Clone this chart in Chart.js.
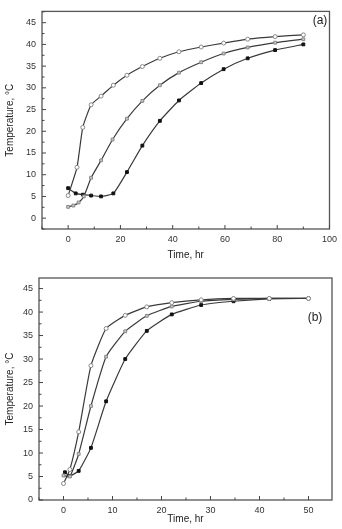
<!DOCTYPE html>
<html>
<head>
<meta charset="utf-8">
<script src="https://cdn.jsdelivr.net/npm/chart.js@4.4.1/dist/chart.umd.min.js"></script>
<style>
  body { margin: 0; background: #fff; }
  .box { position: absolute; left: 0; width: 342px; }
</style>
</head>
<body>
<div class="box" style="top:0;height:265px"><canvas id="chartA" width="342" height="265"></canvas></div>
<div class="box" style="top:265px;height:264px"><canvas id="chartB" width="342" height="264"></canvas></div>
<script>
// panel (a)
const aTime1 = [0, 3.4, 5.6, 8.8, 12.6, 17.3, 22.5, 28.4, 35.1, 42.4, 50.9, 59.5, 68.7, 79.2, 90]
const aTemp1 = [5.2, 11.7, 20.9, 26.1, 28.1, 30.6, 32.9, 34.9, 36.8, 38.3, 39.4, 40.3, 41.2, 41.8, 42.2]
const aTime2 = [0, 2, 4, 6, 8.8, 12.6, 17, 22.5, 28.4, 35.1, 42.4, 50.9, 59.5, 68.7, 79.2, 90]
const aTemp2 = [2.6, 2.9, 3.6, 5.0, 9.3, 13.3, 18.1, 22.9, 27.0, 30.6, 33.5, 35.9, 37.9, 39.3, 40.4, 41.2]
const aTime3 = [0, 2.9, 5.7, 8.8, 12.6, 17.3, 22.5, 28.4, 35.1, 42.4, 50.9, 59.5, 68.7, 79.2, 90]
const aTemp3 = [6.9, 5.7, 5.4, 5.2, 5.0, 5.7, 10.6, 16.7, 22.4, 27.1, 31.1, 34.3, 36.8, 38.7, 40.0]
const aXTicks = [0, 20, 40, 60, 80, 100]

// panel (b)
const bTime1 = [0, 1.3, 3.1, 5.6, 8.7, 12.6, 17, 22.1, 28.1, 34.7, 42, 50]
const bTemp1 = [3.5, 6.5, 14.5, 28.6, 36.5, 39.3, 41.1, 42.0, 42.6, 42.9, 42.9, 42.9]
const bTime2 = [0, 1.3, 3.1, 5.6, 8.7, 12.6, 17, 22.1, 28.1, 34.7, 42, 50]
const bTemp2 = [5.2, 5.0, 9.8, 20.0, 30.5, 35.9, 39.2, 41.2, 42.3, 42.7, 42.9, 42.9]
const bTime3 = [0.3, 1.2, 3.1, 5.6, 8.7, 12.6, 17, 22.1, 28.1, 34.7, 42, 50]
const bTemp3 = [5.9, 5.1, 6.2, 11.1, 21.0, 30.0, 36.0, 39.5, 41.5, 42.3, 42.8, 42.9]
const bXTicks = [0, 10, 20, 30, 40, 50]

const yTicks = [0, 5, 10, 15, 20, 25, 30, 35, 40, 45]

function pts(xs, ys) {
  return xs.map(function(x, i) { return {x: x, y: ys[i]} })
}

function series(xs, ys, shape, fill, stroke) {
  return {
    data: pts(xs, ys),
    borderColor: '#3a3a3a',
    borderWidth: 1.2,
    pointStyle: shape,
    pointRadius: 2,
    pointBackgroundColor: fill,
    pointBorderColor: stroke,
    pointBorderWidth: 1,
    tension: 0.15,
    fill: false
  }
}

// frame + inward ticks + panel label
const framePlugin = {
  id: 'frame',
  afterDraw(chart, args, opts) {
    const ctx = chart.ctx
    const a = chart.chartArea
    const x = chart.scales.x, y = chart.scales.y
    ctx.save()
    ctx.strokeStyle = '#555'
    ctx.lineWidth = 1.3
    ctx.strokeRect(a.left, a.top, a.right - a.left, a.bottom - a.top)
    ctx.lineWidth = 1
    ctx.strokeStyle = '#444'
    for (let v = Math.ceil(x.min / opts.xMinor) * opts.xMinor; v <= x.max; v += opts.xMinor) {
      const px = x.getPixelForValue(v)
      const len = Math.abs(v % opts.xMajor) < 1e-6 ? 4 : 2.5
      ctx.beginPath(); ctx.moveTo(px, a.bottom); ctx.lineTo(px, a.bottom - len); ctx.stroke()
    }
    for (let v = Math.ceil(y.min / 2.5) * 2.5; v <= y.max; v += 2.5) {
      const py = y.getPixelForValue(v)
      const len = Math.abs(v % 5) < 1e-6 ? 4 : 2.5
      ctx.beginPath(); ctx.moveTo(a.left, py); ctx.lineTo(a.left + len, py); ctx.stroke()
    }
    ctx.fillStyle = '#222'
    ctx.font = '12px "Liberation Sans", Arial, sans-serif'
    ctx.textAlign = 'center'
    ctx.textBaseline = 'middle'
    ctx.fillText(opts.label, opts.lx, opts.ly)
    ctx.restore()
  }
}

function makeChart(id, datasets, xMin, xMax, yMin, yMax, xTicks, xMinor, xMajor, layout, yWidth, xHeight, label, lx, ly) {
  return new Chart(id, {
    type: 'line',
    data: { datasets: datasets },
    plugins: [framePlugin],
    options: {
      responsive: false,
      animation: false,
      layout: { padding: layout },
      plugins: {
        legend: { display: false },
        tooltip: { enabled: false },
        frame: { xMinor: xMinor, xMajor: xMajor, label: label, lx: lx, ly: ly }
      },
      scales: {
        x: {
          type: 'linear',
          min: xMin,
          max: xMax,
          afterBuildTicks: function(s) { s.ticks = xTicks.map(function(v) { return {value: v} }) },
          afterFit: function(s) { s.height = xHeight },
          grid: { display: false, drawTicks: false },
          border: { display: false },
          ticks: { color: '#333', font: { size: 9, family: '"Liberation Sans", Arial' }, padding: 5, maxRotation: 0 },
          title: { display: true, text: 'Time, hr', color: '#222', font: { size: 10, family: '"Liberation Sans", Arial' }, padding: { top: 1 } }
        },
        y: {
          min: yMin,
          max: yMax,
          afterBuildTicks: function(s) { s.ticks = yTicks.map(function(v) { return {value: v} }) },
          afterFit: function(s) { s.width = yWidth },
          grid: { display: false, drawTicks: false },
          border: { display: false },
          ticks: { color: '#333', font: { size: 9, family: '"Liberation Sans", Arial' }, padding: 6 },
          title: { display: true, text: 'Temperature, °C', color: '#222', font: { size: 10, family: '"Liberation Sans", Arial' }, padding: { bottom: 2 } }
        }
      }
    }
  })
}

makeChart('chartA', [
  series(aTime1, aTemp1, 'circle', '#fff', '#888'),
  series(aTime2, aTemp2, 'rect', '#c8c8c8', '#888'),
  series(aTime3, aTemp3, 'rect', '#111', '#111')
], -10, 100, -2.5, 47.6, aXTicks, 10, 20, { top: 4, right: 8, left: 0, bottom: 0 }, 42, 36, '(a)', 320, 21)

makeChart('chartB', [
  series(bTime1, bTemp1, 'circle', '#fff', '#888'),
  series(bTime2, bTemp2, 'rect', '#c8c8c8', '#888'),
  series(bTime3, bTemp3, 'rect', '#111', '#111')
], -5, 54.8, 0, 47.25, bXTicks, 5, 10, { top: 13, right: 10, left: 0, bottom: 0 }, 39, 29, '(b)', 315, 53)
</script>
</body>
</html>
